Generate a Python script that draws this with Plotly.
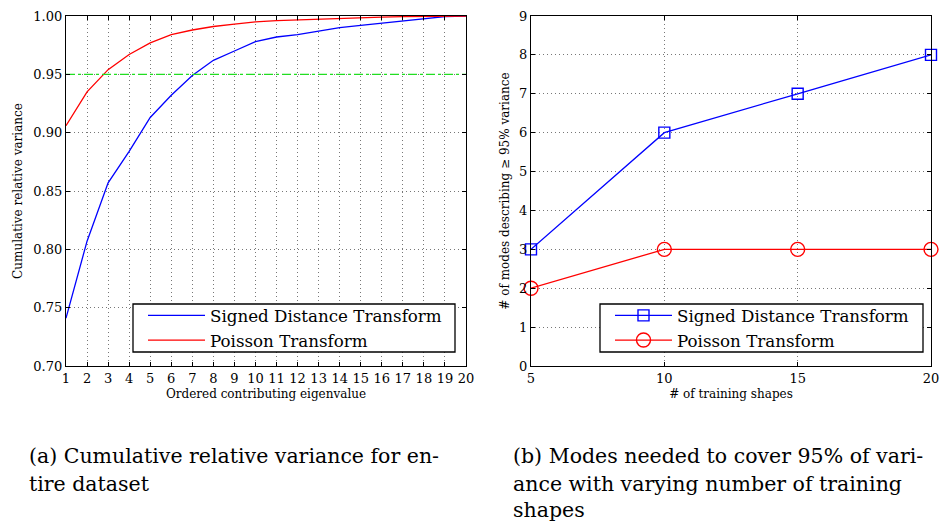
import plotly.graph_objects as go

# ---- data: left panel ----
eig_idx = list(range(1, 21))
sdt_cum = [0.741, 0.807, 0.857, 0.884, 0.913, 0.932, 0.949, 0.962, 0.970, 0.978,
           0.982, 0.984, 0.987, 0.990, 0.992, 0.994, 0.996, 0.998, 0.9995, 1.0]
poi_cum = [0.906, 0.935, 0.954, 0.967, 0.977, 0.984, 0.988, 0.991, 0.993, 0.995,
           0.996, 0.9966, 0.9974, 0.9983, 0.9989, 0.999, 0.9994, 0.9997, 1.0, 1.0]
threshold = 0.95

# ---- data: right panel ----
train_shapes = [5, 10, 15, 20]
sdt_modes = [3, 6, 7, 8]
poi_modes = [2, 3, 3, 3]

series_names = ["Signed Distance Transform", "Poisson Transform"]
left_xticks = list(range(1, 21))
left_yticks = [0.70, 0.75, 0.80, 0.85, 0.90, 0.95, 1.00]
right_xticks = [5, 10, 15, 20]
right_yticks = list(range(0, 10))

caption_a = ["(a) Cumulative relative variance for en-", "tire dataset"]
caption_b = ["(b) Modes needed to cover 95% of vari-",
             "ance with varying number of training", "shapes"]

# page body margin is removed (post_script), so the figure fills the window
W, H = 940, 522


def px(x):
    return x / W


def py(y):
    return 1 - y / H


BLUE = "#0000ff"
RED = "#ff0000"
FONT = "DejaVu Serif, Liberation Serif, serif"

fig = go.Figure()

fig.add_trace(go.Scatter(x=eig_idx, y=sdt_cum, mode="lines", name=series_names[0],
                         line=dict(color=BLUE, width=1.3), xaxis="x", yaxis="y",
                         legend="legend"))
fig.add_trace(go.Scatter(x=eig_idx, y=poi_cum, mode="lines", name=series_names[1],
                         line=dict(color=RED, width=1.3), xaxis="x", yaxis="y",
                         legend="legend"))
fig.add_trace(go.Scatter(x=[eig_idx[0], eig_idx[-1]], y=[threshold, threshold], mode="lines",
                         line=dict(color="#22dd22", width=1.3, dash="dashdot"),
                         showlegend=False, xaxis="x", yaxis="y"))

fig.add_trace(go.Scatter(x=train_shapes, y=sdt_modes, mode="lines+markers", name=series_names[0],
                         line=dict(color=BLUE, width=1.3),
                         marker=dict(symbol="square-open", size=11, color=BLUE, line=dict(width=1.4)),
                         cliponaxis=False, xaxis="x2", yaxis="y2", legend="legend2"))
fig.add_trace(go.Scatter(x=train_shapes, y=poi_modes, mode="lines+markers", name=series_names[1],
                         line=dict(color=RED, width=1.3),
                         marker=dict(symbol="circle-open", size=14, color=RED, line=dict(width=1.4)),
                         cliponaxis=False, xaxis="x2", yaxis="y2", legend="legend2"))

ydom = [py(366), py(16)]
axis_common = dict(showline=True, linecolor="black", linewidth=1.2, mirror="ticks",
                   ticks="inside", ticklen=4, tickcolor="black", automargin=False,
                   showgrid=True, gridcolor="#777777", gridwidth=1, griddash="1px,3px",
                   zeroline=False, ticklabeloverflow="allow",
                   tickfont=dict(family=FONT, size=13, color="black"))

legend_common = dict(xanchor="left", yanchor="middle", borderwidth=0,
                     bgcolor="rgba(0,0,0,0)", itemwidth=57, tracegroupgap=0,
                     font=dict(family=FONT, size=16.7, color="black"))

fig.update_layout(
    template="none",
    width=W, height=H, margin=dict(l=0, r=0, t=0, b=0, autoexpand=False),
    paper_bgcolor="white", plot_bgcolor="white",
    font=dict(family=FONT, color="black"),
    xaxis=dict(domain=[px(66), px(466)], range=[1, 20], tickvals=left_xticks,
               title=dict(text="Ordered contributing eigenvalue", font=dict(size=12), standoff=4),
               anchor="y", **axis_common),
    yaxis=dict(domain=ydom, range=[0.70, 1.00], tickvals=left_yticks, tickformat=".2f",
               title=dict(text="Cumulative relative variance", font=dict(size=12), standoff=8),
               anchor="x", **axis_common),
    xaxis2=dict(domain=[px(531), px(931)], range=[5, 20], tickvals=right_xticks,
                title=dict(text="# of training shapes", font=dict(size=12), standoff=4),
                anchor="y2", **axis_common),
    yaxis2=dict(domain=ydom, range=[0, 9], tickvals=right_yticks,
                title=dict(text="# of modes describing ≥ 95% variance", font=dict(size=12), standoff=6),
                anchor="x2", **axis_common),
    legend=dict(x=px(143), y=py(328), **legend_common),
    legend2=dict(x=px(610), y=py(328), **legend_common),
)

# legend frames (white boxes with black border, like the original legends)
for x0, x1 in [(133, 455), (600, 923)]:
    fig.add_shape(type="rect", xref="paper", yref="paper",
                  x0=px(x0), x1=px(x1), y0=py(352), y1=py(304),
                  line=dict(color="black", width=1.3), fillcolor="white", layer="above")

cap_font = dict(family="DejaVu Serif, Liberation Serif, serif", size=20.5, color="black")
line_ys = [456, 484, 510]
for i, txt in enumerate(caption_a):
    fig.add_annotation(text=txt, x=px(27), y=py(line_ys[i]), xref="paper", yref="paper",
                       xanchor="left", yanchor="middle", showarrow=False, font=cap_font)
for i, txt in enumerate(caption_b):
    fig.add_annotation(text=txt, x=px(511), y=py(line_ys[i]), xref="paper", yref="paper",
                       xanchor="left", yanchor="middle", showarrow=False, font=cap_font)

fig.write_html("out.html", config={"displayModeBar": False},
               post_script="document.body.style.margin='0';document.body.style.overflow='hidden';")
